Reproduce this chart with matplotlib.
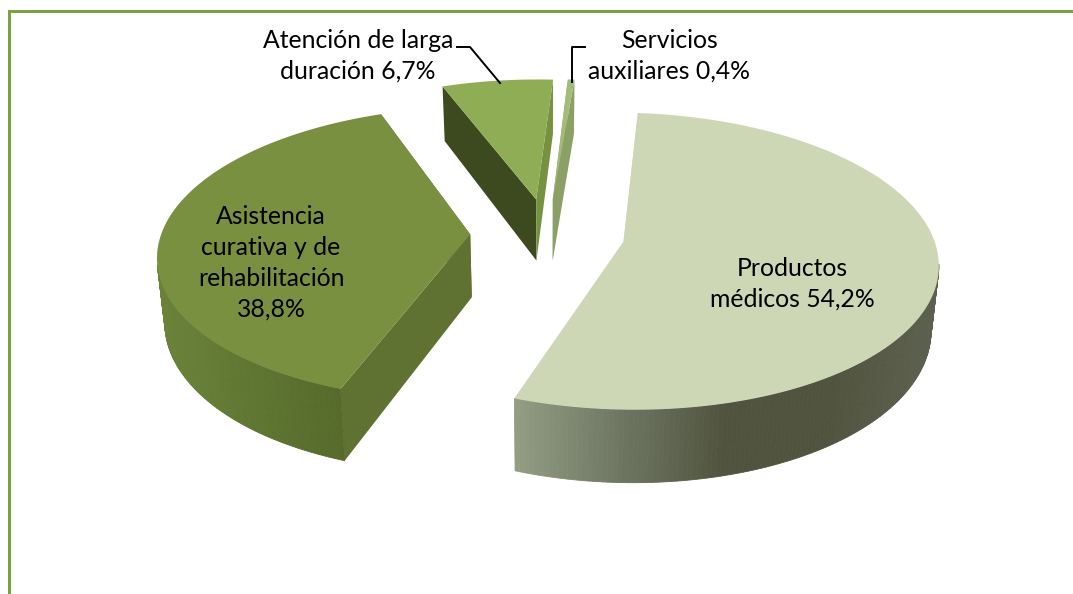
import numpy as np
import matplotlib
matplotlib.use('Agg')
import matplotlib.pyplot as plt
from matplotlib.colors import LinearSegmentedColormap

plt.rcParams['font.family'] = ['Lato', 'DejaVu Sans']

# dados do grafico
categorias = ['Productos\nmédicos', 'Asistencia\ncurativa y de\nrehabilitación\n', 'Atención de larga\nduración', 'Servicios\nauxiliares']
valores = [54.2, 38.8, 6.7, 0.4]

# cores de cada fatia
cor_topo = ['#cdd7b6', '#7a9041', '#8fad55', '#a3bb78']
cor_corte_inicio = ['#cdd7b6', '#5f7232', '#3d4a20', '#8aa065']
cor_corte_fim = ['#cdd7b6', '#5f7232', '#76913f', '#8aa065']
gradiente = [['#939e84', '#6f7763', '#50543f', '#50543f', '#5c604e'],
             ['#6a8339', '#5f7632', '#566a2b'],
             ['#3d4a20', '#3d4a20'],
             ['#8aa065', '#8aa065']]

# posicao dos textos
pos_texto = [(792, 284), (271, 263), (358, 56), (669.5, 56)]

# parametros da projecao
cx, cy = 547.5, 234
R = 309
k = 0.466
p = 0.13
D = 63
explosao = 0.25
inicio = 4.8
recuo = 0.02


def projeta(u, v, z=0):
    s = 1 / (1 - p * v)
    return cx + R * u * s * (1 - recuo * z), cy + R * k * v * s + D * z * s


fig = plt.figure(figsize=(10.73, 5.94), dpi=100)
ax = fig.add_axes([0, 0, 1, 1])
ax.set_xlim(0, 1073)
ax.set_ylim(594, 0)
ax.axis('off')

# moldura
ax.plot([9, 9, 1073], [594, 11, 11], color='#7f9f45', lw=2.2, solid_joinstyle='miter')

total = sum(valores)
angulos = inicio + np.cumsum([0] + [v / total * 360 for v in valores])

# ordem de desenho: as de tras primeiro
for i in [2, 3, 1, 0]:
    a0 = np.radians(angulos[i])
    a1 = np.radians(angulos[i + 1])
    meio = (a0 + a1) / 2
    u0 = explosao * np.sin(meio)
    v0 = -explosao * np.cos(meio)

    t = np.linspace(a0, a1, 240)
    u = u0 + np.sin(t)
    v = v0 - np.cos(t)

    # cortes radiais
    for a, cor in [(a0, cor_corte_inicio[i]), (a1, cor_corte_fim[i])]:
        ub = u0 + np.sin(a)
        vb = v0 - np.cos(a)
        quad = [projeta(u0, v0), projeta(ub, vb), projeta(ub, vb, 1), projeta(u0, v0, 1)]
        ax.fill(*zip(*quad), color=cor, lw=0)

    # lateral externa com gradiente horizontal
    cmap = LinearSegmentedColormap.from_list('g', gradiente[i])
    xt, yt = projeta(u, v)
    xb, yb = projeta(u, v, 1)
    vis = v > 0.2
    if vis.sum() > 1:
        xmin, xmax = xt[vis].min(), xt[vis].max()
        for j in range(len(t) - 1):
            if not (vis[j] and vis[j + 1]):
                continue
            cor = cmap((xt[j] - xmin) / (xmax - xmin))
            ax.fill([xt[j], xt[j + 1], xb[j + 1], xb[j]], [yt[j], yt[j + 1], yb[j + 1], yb[j]],
                    color=cor, ec=cor, lw=0.6)

    # topo
    xa, ya = projeta(u0, v0)
    ax.fill(np.r_[xa, xt], np.r_[ya, yt], color=cor_topo[i], lw=0)

# linhas de chamada
ax.plot([457, 470, 500], [47, 47, 83], color='black', lw=1.4)
ax.plot([585, 572, 572], [47, 47, 82], color='black', lw=1.4)

# rotulos
for i in range(len(valores)):
    valor = f'{valores[i]:.1f}'.replace('.', ',') + '%'
    x, y = pos_texto[i]
    ax.text(x, y, categorias[i] + ' ' * (categorias[i][-1] != '\n') + valor, ha='center', va='center',
            fontsize=17.8, color='black', linespacing=1.42)

fig.savefig('out.png', dpi=100)
